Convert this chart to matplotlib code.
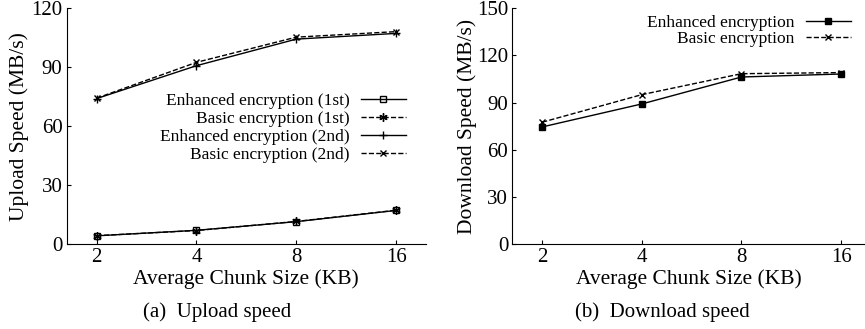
import matplotlib
matplotlib.use("Agg")
import matplotlib.pyplot as plt

plt.rcParams['font.family'] = ['Liberation Serif', 'DejaVu Serif']

chunk_sizes = ["2", "4", "8", "16"]

# upload speed (MB/s)
up_enh_1st = [4.3, 7.1, 11.5, 17.2]
up_basic_1st = [4.4, 7.0, 11.6, 17.3]
up_enh_2nd = [74.0, 90.7, 104.2, 107.1]
up_basic_2nd = [74.2, 92.4, 105.2, 108.0]

# download speed (MB/s)
down_enh = [74.5, 89.1, 106.2, 108.1]
down_basic = [77.5, 95.0, 108.3, 109.0]

W, H = 865.0, 329.0


def style_axes(ax, ymax):
    ax.spines['top'].set_visible(False)
    ax.spines['right'].set_visible(False)
    ax.set_xlim(-0.3, 3.3)
    ax.set_ylim(0, ymax)
    ax.set_yticks(range(0, ymax + 1, 30))
    ax.set_xticks(range(len(chunk_sizes)))
    ax.set_xticklabels(chunk_sizes)
    ax.tick_params(direction='in', length=3, labelsize=15, pad=3)
    ax.set_xlabel("Average Chunk Size (KB)", fontsize=15.5, labelpad=1.5)


def add_legend(ax, right_px, top_px, spacing):
    ax.legend(loc='upper right', bbox_to_anchor=(right_px / W, 1 - top_px / H),
              bbox_transform=fig.transFigure, frameon=False,
              markerfirst=False, fontsize=12.5, handlelength=2.6,
              labelspacing=spacing, borderpad=0, borderaxespad=0,
              handletextpad=0.65)


fig = plt.figure(figsize=(8.65, 3.29), dpi=100)

ax1 = fig.add_axes([66.7 / W, 1 - 244.3 / H, (426 - 66.7) / W, (244.3 - 8) / H])
x = range(len(chunk_sizes))
ax1.plot(x, up_enh_1st, color='black', lw=1.0, marker='s', ms=5, mfc='none',
         label="Enhanced encryption (1st)")
ax1.plot(x, up_basic_1st, color='black', lw=1.0, ls='--', marker=(6, 2, 0), ms=6,
         label="Basic encryption (1st)")
ax1.plot(x, up_enh_2nd, color='black', lw=1.0, marker='+', ms=6,
         label="Enhanced encryption (2nd)")
ax1.plot(x, up_basic_2nd, color='black', lw=1.0, ls='--', marker='x', ms=5,
         label="Basic encryption (2nd)")
style_axes(ax1, 120)
ax1.set_ylabel("Upload Speed (MB/s)", fontsize=15.5, labelpad=2)
add_legend(ax1, 405.7, 93, 0.1)

ax2 = fig.add_axes([512.3 / W, 1 - 244.3 / H, (865 - 512.3) / W, (244.3 - 8) / H])
ax2.plot(x, down_enh, color='black', lw=1.0, marker='s', ms=5,
         label="Enhanced encryption")
ax2.plot(x, down_basic, color='black', lw=1.0, ls='--', marker='x', ms=5,
         label="Basic encryption")
style_axes(ax2, 150)
ax2.set_xlim(-0.3, 3.24)
ax2.set_ylabel("Download Speed (MB/s)", fontsize=15.5, labelpad=0)
add_legend(ax2, 851, 14.5, 0.0)

fig.text(216.7 / W, 1 - 311.7 / H, "(a)  Upload speed", ha='center', va='center', fontsize=15)
fig.text(662.7 / W, 1 - 311.7 / H, "(b)  Download speed", ha='center', va='center', fontsize=15)

fig.savefig("out.png", dpi=100)
